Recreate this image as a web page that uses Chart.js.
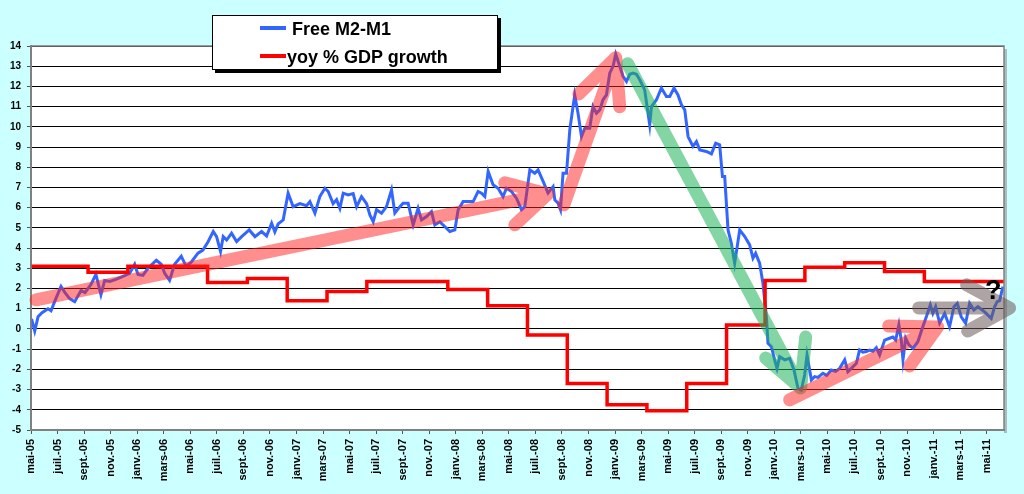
<!DOCTYPE html>
<html>
<head>
<meta charset="utf-8">
<script src="https://cdn.jsdelivr.net/npm/chart.js@4.4.0/dist/chart.umd.min.js"></script>
<style>
  html, body { margin: 0; padding: 0; background: #ccffff; }
  #wrap { position: relative; width: 1024px; height: 494px; overflow: hidden; background: #ccffff; }
  #chart { position: absolute; left: 0; top: 0; }
  #legend {
    position: absolute; left: 212px; top: 15px; width: 284px; height: 53px;
    background: #fff; border: 1px solid #000; box-shadow: 3px 3px 0 #000;
    font: bold 18px "Liberation Sans", Arial, sans-serif; color: #000;
  }
  .swatch { position: absolute; left: 47px; width: 26px; height: 4px; }
  .label  { position: absolute; line-height: 22px; white-space: nowrap; }
  #question {
    position: absolute; left: 985px; top: 275px;
    font: bold 27px "Liberation Sans", Arial, sans-serif; color: #000;
  }
</style>
</head>
<body>
<div id="wrap">
  <canvas id="chart" width="1024" height="494"></canvas>
  <div id="legend">
    <div class="swatch" style="top:10px; background:#3366ff;"></div>
    <div class="label" style="left:79px; top:2px;">Free M2-M1</div>
    <div class="swatch" style="top:38px; background:#ff0000;"></div>
    <div class="label" style="left:74px; top:30px;">yoy % GDP growth</div>
  </div>
  <div id="question">?</div>
</div>
<script>
// ── Axis labels (one every two months, starting mai-05 = month 0) ─────────────
var tickLabels = ['mai-05', 'juil.-05', 'sept.-05', 'nov.-05', 'janv.-06', 'mars-06',
  'mai-06', 'juil.-06', 'sept.-06', 'nov.-06', 'janv.-07', 'mars-07', 'mai-07',
  'juil.-07', 'sept.-07', 'nov.-07', 'janv.-08', 'mars-08', 'mai-08', 'juil.-08',
  'sept.-08', 'nov.-08', 'janv.-09', 'mars-09', 'mai-09', 'juil.-09', 'sept.-09',
  'nov.-09', 'janv.-10', 'mars-10', 'mai-10', 'juil.-10', 'sept.-10', 'nov.-10',
  'janv.-11', 'mars-11', 'mai-11'];
var tickMonths = [0, 2, 4, 6, 8, 10, 12, 14, 16, 18, 20, 22, 24, 26, 28, 30, 32, 34,
  36, 38, 40, 42, 44, 46, 48, 50, 52, 54, 56, 58, 60, 62, 64, 66, 68, 70, 72];

// ── Free M2-M1 : [month since mai-05, value] ──────────────────────────────────
var m2Series = [
  [0.04,0.5],[0.28,-0.1],[0.53,0.6],[0.83,0.8],[1.28,1.0],[1.51,0.9],[1.81,1.4],[2.26,2.1],
  [2.56,1.8],[2.91,1.5],[3.29,1.35],[3.77,1.9],[4.07,1.8],[4.52,2.2],[4.89,2.7],[5.27,1.7],
  [5.55,2.4],[5.93,2.35],[6.40,2.45],[6.93,2.6],[7.43,2.75],[7.81,3.2],[8.06,2.7],[8.43,2.65],
  [8.81,3.0],[9.44,3.4],[9.81,3.2],[10.07,2.75],[10.44,2.4],[10.82,3.2],[11.32,3.6],[11.69,3.1],
  [12.07,3.3],[12.58,3.75],[12.95,3.9],[13.33,4.3],[13.73,4.82],[13.98,4.57],[14.28,3.83],
  [14.48,4.57],[14.74,4.4],[15.11,4.74],[15.49,4.32],[15.87,4.57],[16.44,4.9],[16.87,4.57],
  [17.37,4.82],[17.75,4.6],[18.13,5.23],[18.37,4.8],[18.62,5.2],[19.00,5.4],[19.37,6.72],
  [19.75,6.05],[20.26,6.2],[20.76,6.1],[21.01,6.3],[21.39,5.73],[21.76,6.55],[22.14,6.96],
  [22.39,6.8],[22.76,6.2],[23.02,6.4],[23.27,5.97],[23.52,6.72],[23.89,6.63],[24.27,6.7],
  [24.53,6.05],[24.90,6.55],[25.28,6.2],[25.53,5.64],[25.78,5.3],[26.03,5.9],[26.41,5.73],
  [26.78,6.05],[27.16,6.88],[27.41,5.73],[27.79,6.05],[28.03,6.22],[28.41,6.22],[28.79,5.15],
  [29.16,5.97],[29.42,5.4],[29.80,5.56],[30.17,5.8],[30.42,5.15],[30.80,5.3],[31.17,5.07],
  [31.55,4.82],[31.93,4.9],[32.18,5.9],[32.55,6.3],[32.93,6.3],[33.31,6.3],[33.68,6.8],
  [33.94,6.72],[34.19,6.55],[34.44,7.79],[34.81,7.13],[35.19,6.96],[35.56,6.55],[35.82,6.96],
  [36.20,6.8],[36.57,6.47],[36.95,5.9],[37.20,6.05],[37.58,7.87],[37.95,7.7],[38.20,7.87],
  [38.58,7.3],[38.95,6.72],[39.33,7.04],[39.46,6.39],[39.71,6.22],[39.89,5.9],[40.08,7.7],
  [40.34,7.7],[40.59,9.85],[40.96,11.58],[41.21,10.67],[41.47,9.52],[41.72,9.93],[42.09,9.93],
  [42.34,11.0],[42.60,10.67],[42.85,10.84],[43.09,11.34],[43.35,11.58],[43.60,12.66],
  [43.85,13.0],[44.05,13.6],[44.35,13.0],[44.60,12.5],[44.86,12.25],[45.11,12.6],[45.35,12.66],
  [45.61,12.6],[45.86,12.33],[46.23,11.83],[46.61,10.1],[46.74,11.0],[47.12,11.34],
  [47.49,11.92],[47.87,11.5],[48.12,11.5],[48.44,11.92],[48.74,11.58],[49.00,11.09],
  [49.25,10.84],[49.50,9.52],[49.87,9.03],[50.13,9.27],[50.38,8.86],[50.88,8.78],[51.26,8.66],
  [51.58,9.19],[51.88,9.11],[52.09,7.54],[52.26,7.54],[52.51,4.9],[52.76,4.24],[53.01,3.25],
  [53.39,4.9],[53.77,4.57],[54.14,4.16],[54.39,3.5],[54.59,3.74],[54.89,3.25],[55.14,2.26],
  [55.40,0.61],[55.52,-0.71],[55.78,-0.88],[56.02,-1.53],[56.20,-1.95],[56.40,-1.37],
  [56.78,-1.53],[57.15,-1.45],[57.48,-2.03],[57.78,-2.94],[58.03,-3.02],[58.28,-2.28],
  [58.46,-1.29],[58.79,-2.52],[59.04,-2.36],[59.28,-2.4],[59.66,-2.2],[59.94,-2.3],
  [60.29,-2.03],[60.62,-2.1],[60.92,-1.95],[61.30,-1.53],[61.54,-2.11],[61.80,-1.95],
  [62.18,-1.7],[62.42,-1.04],[62.67,-1.15],[62.93,-1.12],[63.18,-1.05],[63.43,-1.1],
  [63.68,-0.93],[63.93,-1.29],[64.31,-0.55],[64.68,-0.46],[64.93,-0.4],[65.14,-0.55],
  [65.38,0.2],[65.56,-0.55],[65.69,-1.53],[65.89,-0.46],[66.14,-0.79],[66.44,-0.96],
  [66.81,-0.63],[67.14,0.02],[67.45,0.6],[67.75,1.19],[67.94,0.77],[68.15,1.1],[68.45,0.29],
  [68.83,0.77],[69.20,0.11],[69.53,1.1],[69.78,1.27],[70.08,0.6],[70.41,0.28],[70.71,1.27],
  [71.03,0.94],[71.33,1.1],[71.66,0.94],[71.96,0.77],[72.34,0.52],[72.59,1.1],[72.79,1.35],
  [72.97,1.4],[73.22,2.09]
];

// ── yoy % GDP growth : [month where the quarter value starts, value] ──────────
var gdpSteps = [
  [0, 3.1], [4.3, 2.8], [7.3, 3.1], [13.3, 2.3], [16.3, 2.5], [19.3, 1.4], [22.3, 1.85],
  [25.3, 2.35], [31.4, 1.95], [34.4, 1.15], [37.4, -0.3], [40.4, -2.7], [43.4, -3.75],
  [46.4, -4.05], [49.4, -2.7], [52.4, 0.2], [55.3, 2.4], [58.3, 3.05], [61.3, 3.28],
  [64.3, 2.84], [67.3, 2.35], [73.3, 2.35]
];

// ── Hand-drawn arrows : from, tip, two head ends [month, value] ───────────────
var arrows = [
  { kind: 'red',   from: [0.38, 1.44],  tip: [38.93, 6.68],  headA: [35.69, 7.23],  headB: [36.45, 5.15] },
  { kind: 'red',   from: [40.14, 6.14], tip: [44.05, 13.42], headA: [41.27, 11.63], headB: [44.35, 10.99] },
  { kind: 'green', from: [44.95, 13.12], tip: [57.98, -2.92], headA: [55.35, -1.44], headB: [58.36, -0.40] },
  { kind: 'red',   from: [57.15, -3.51], tip: [68.30, 0.10],  headA: [64.61, 0.15],  headB: [66.19, -1.83] },
  { kind: 'gray',  from: [66.87, 1.04],  tip: [73.72, 1.04],  headA: [70.48, 2.18],  headB: [70.56, -0.10] }
];
var arrowColors = { red: 'rgba(255,30,30,0.5)', green: 'rgba(30,180,90,0.55)', gray: 'rgba(110,90,90,0.55)' };

var yFont = { family: '"Liberation Sans", Arial, sans-serif', size: 10, weight: 'bold' };
var xFont = { family: '"Liberation Sans", Arial, sans-serif', size: 11, weight: 'bold' };

// ── Plot background, border and arrows ───────────────────────────────────────
var plotPlugin = {
  id: 'plotDecor',
  beforeDraw: function (chart) {
    var a = chart.chartArea, ctx = chart.ctx;
    ctx.save();
    ctx.fillStyle = '#a9bfbf';
    ctx.fillRect(a.right, a.top + 3, 3, a.bottom - a.top);
    ctx.fillStyle = '#ffffff';
    ctx.fillRect(a.left, a.top, a.right - a.left, a.bottom - a.top);
    ctx.restore();
  },
  afterDraw: function (chart) {
    var a = chart.chartArea, ctx = chart.ctx;
    ctx.save();
    ctx.strokeStyle = '#808080';
    ctx.lineWidth = 1.5;
    ctx.strokeRect(a.left, a.top, a.right - a.left, a.bottom - a.top);

    var xs = chart.scales.x, ys = chart.scales.y;
    function px(p) { return [xs.getPixelForValue(p[0]), ys.getPixelForValue(p[1])]; }
    ctx.lineWidth = 13;
    ctx.lineCap = 'round';
    ctx.lineJoin = 'round';
    for (var i = 0; i < arrows.length; i++) {
      var f = px(arrows[i].from), t = px(arrows[i].tip);
      var ha = px(arrows[i].headA), hb = px(arrows[i].headB);
      ctx.strokeStyle = arrowColors[arrows[i].kind];
      ctx.beginPath();
      ctx.moveTo(f[0], f[1]);
      ctx.lineTo(t[0], t[1]);
      ctx.moveTo(ha[0], ha[1]);
      ctx.lineTo(t[0], t[1]);
      ctx.lineTo(hb[0], hb[1]);
      ctx.stroke();
    }
    ctx.restore();
  }
};

function toPoints(list) {
  var out = [];
  for (var i = 0; i < list.length; i++) out.push({ x: list[i][0], y: list[i][1] });
  return out;
}

new Chart(document.getElementById('chart').getContext('2d'), {
  type: 'line',
  data: {
    datasets: [
      {
        label: 'yoy % GDP growth',
        data: toPoints(gdpSteps),
        borderColor: '#ff0000',
        borderWidth: 3.5,
        stepped: true,
        pointRadius: 0,
        order: 0
      },
      {
        label: 'Free M2-M1',
        data: toPoints(m2Series),
        borderColor: '#3366ff',
        borderWidth: 3,
        tension: 0,
        pointRadius: 0,
        order: 1
      }
    ]
  },
  options: {
    responsive: false,
    animation: false,
    devicePixelRatio: 1,
    layout: { autoPadding: false, padding: { left: 0, top: 46, right: 20, bottom: 0 } },
    plugins: { legend: { display: false }, tooltip: { enabled: false } },
    scales: {
      x: {
        type: 'linear',
        min: 0,
        max: 73.3,
        afterFit: function (s) { s.height = 64; },
        afterBuildTicks: function (s) {
          s.ticks = tickMonths.map(function (m) { return { value: m }; });
        },
        ticks: {
          autoSkip: false,
          minRotation: 90,
          maxRotation: 90,
          padding: 5,
          color: '#000',
          font: xFont,
          callback: function (v, i) { return tickLabels[i]; }
        },
        grid: { drawOnChartArea: false, drawTicks: true, tickLength: 4, color: '#555' },
        border: { color: '#808080', width: 2 }
      },
      y: {
        min: -5,
        max: 14,
        afterFit: function (s) { s.width = 31; },
        ticks: { stepSize: 1, padding: 6, color: '#000', font: yFont },
        grid: { color: '#000', lineWidth: 1, tickLength: 4, tickColor: '#555' },
        border: { color: '#808080', width: 2 }
      }
    }
  },
  plugins: [plotPlugin]
});
</script>
</body>
</html>
